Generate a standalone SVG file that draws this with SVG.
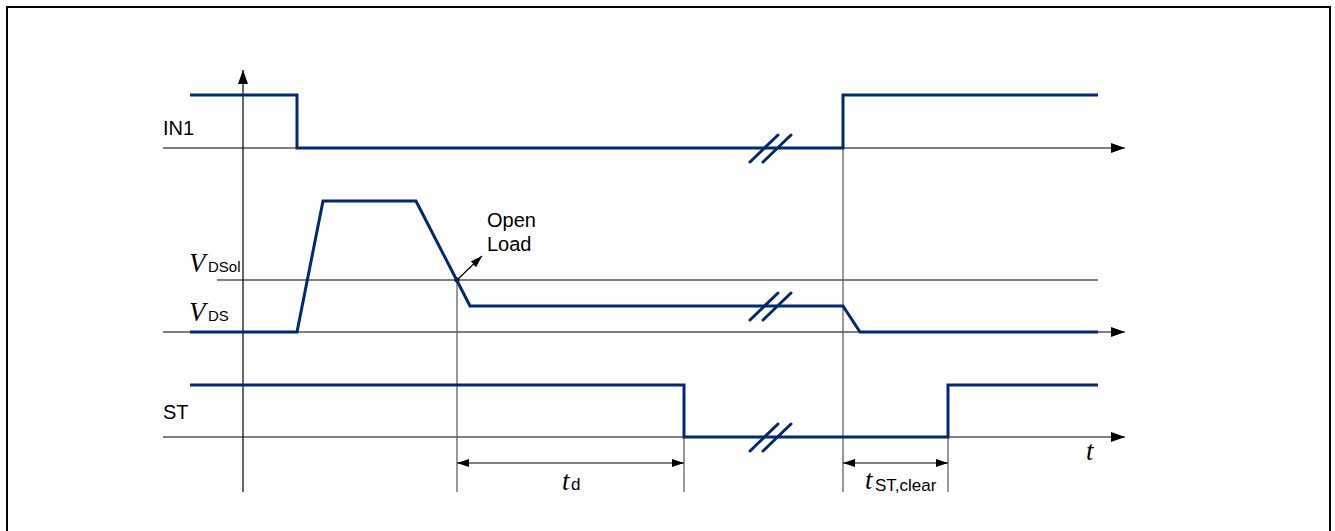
<svg xmlns="http://www.w3.org/2000/svg" width="1335" height="531" viewBox="0 0 1335 531">
<style>
.sig{fill:none;stroke:#002a6e;stroke-width:3;stroke-linejoin:miter}
.brk{stroke:#002a6e;stroke-width:3;stroke-linecap:round}
.ax{stroke:#000;stroke-width:1.2;fill:none}
.gl{stroke:#555;stroke-width:1.2;fill:none}
.lbl{font-family:"Liberation Sans",Arial,sans-serif;font-size:20px;fill:#000}
.it{font-family:"Liberation Serif","Times New Roman",serif;font-style:italic;font-size:27px;fill:#000}
.sub{font-family:"Liberation Sans",Arial,sans-serif;font-size:17px;fill:#000}
.subv{font-family:"Liberation Sans",Arial,sans-serif;font-size:15px;fill:#000}
</style>
<defs>
<marker id="ah" viewBox="0 0 12 10" refX="12" refY="5" markerWidth="12" markerHeight="10" markerUnits="userSpaceOnUse" orient="auto-start-reverse">
<path d="M0,1 L12,5 L0,9 z" fill="#000"/>
</marker>
<marker id="ahb" viewBox="0 0 14 10" refX="14" refY="5" markerWidth="14" markerHeight="10" markerUnits="userSpaceOnUse" orient="auto-start-reverse">
<path d="M0,0 L14,5 L0,10 z" fill="#000"/>
</marker>
</defs>
<rect x="7" y="7" width="1323" height="540" fill="#fff" stroke="#000" stroke-width="2"/>
<g id="axes">
<line class="ax" x1="243" y1="492" x2="243" y2="70" marker-end="url(#ahb)"/>
<line class="ax" x1="163" y1="148" x2="1125" y2="148" marker-end="url(#ahb)"/>
<line class="ax" x1="217" y1="280" x2="1098" y2="280"/>
<line class="ax" x1="163" y1="332" x2="1125" y2="332" marker-end="url(#ahb)"/>
<line class="ax" x1="163" y1="437" x2="1125" y2="437" marker-end="url(#ahb)"/>
</g>
<g id="connectors">
<line class="gl" x1="457" y1="280" x2="457" y2="492"/>
<line class="gl" x1="843" y1="148" x2="843" y2="492"/>
<line class="gl" x1="684" y1="437" x2="684" y2="492"/>
<line class="gl" x1="948" y1="437" x2="948" y2="492"/>
<line class="ax" x1="457" y1="463" x2="684" y2="463" marker-start="url(#ah)" marker-end="url(#ah)"/>
<line class="ax" x1="843" y1="463" x2="948" y2="463" marker-start="url(#ah)" marker-end="url(#ah)"/>
<line class="ax" x1="457" y1="280" x2="482" y2="256" marker-end="url(#ah)"/>
<circle cx="457" cy="280" r="2.5" fill="#000"/>
</g>
<g id="in1">
<polyline class="sig" points="190,95 297,95 297,148 843,148 843,95 1098,95"/>
<line class="brk" x1="750" y1="162" x2="778" y2="135"/>
<line class="brk" x1="763" y1="162" x2="791" y2="135"/>
<text class="lbl" x="163" y="135">IN1</text>
</g>
<g id="vds">
<polyline class="sig" points="190,332 297,332 323,201 416,201 470,306 843,306 860,332 1098,332"/>
<line class="brk" x1="750" y1="320" x2="778" y2="293"/>
<line class="brk" x1="763" y1="320" x2="791" y2="293"/>
<text class="it" x="189" y="272">V</text><text class="subv" x="208" y="272">DSol</text>
<text class="it" x="189" y="321">V</text><text class="subv" x="208" y="321">DS</text>
<text class="lbl" x="487" y="227">Open</text>
<text class="lbl" x="487" y="251">Load</text>
</g>
<g id="st">
<polyline class="sig" points="190,385 684,385 684,437 948,437 948,385 1098,385"/>
<line class="brk" x1="750" y1="451" x2="778" y2="424"/>
<line class="brk" x1="763" y1="451" x2="791" y2="424"/>
<text class="lbl" x="163" y="419">ST</text>
</g>
<g id="labels">
<text class="it" x="562" y="490">t</text><text class="sub" x="571" y="490">d</text>
<text class="it" x="865" y="489">t</text><text class="sub" x="875" y="491">ST,clear</text>
<text class="it" x="1086" y="460">t</text>
</g>
</svg>
